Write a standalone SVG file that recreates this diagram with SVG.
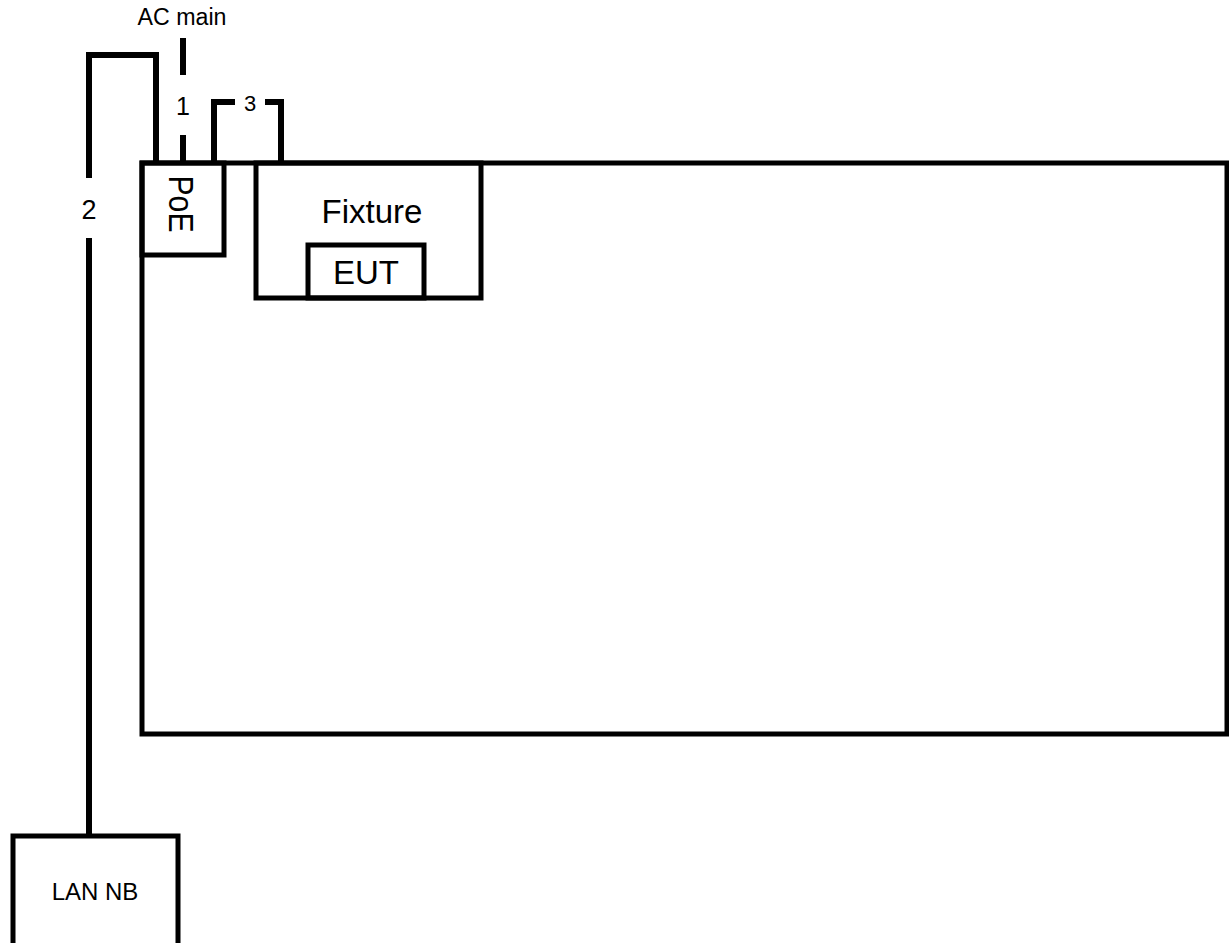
<svg xmlns="http://www.w3.org/2000/svg" width="1229" height="943" viewBox="0 0 1229 943">
<style>
.box{fill:none;stroke:#000;stroke-width:5;stroke-linejoin:miter}
.cable{fill:none;stroke:#000;stroke-width:6;stroke-linejoin:miter;stroke-linecap:butt}
.t{font-family:"Liberation Sans",Arial,sans-serif;fill:#000;text-anchor:middle}
</style>
<rect width="1229" height="943" fill="#fff"/>
<g id="connectors">
  <g id="cable-1">
    <path class="cable" d="M183,38 V75 M183,135 V163"/>
    <text class="t" x="183" y="115" font-size="25">1</text>
  </g>
  <g id="cable-2">
    <path class="cable" d="M89,178 V55 H156 V163 M89,238 V836"/>
    <text class="t" x="89" y="219" font-size="27">2</text>
  </g>
  <g id="cable-3">
    <path class="cable" d="M214,163 V102 H235 M265,102 H281 V163"/>
    <text class="t" x="250" y="111" font-size="22">3</text>
  </g>
  <text id="ac-main-label" class="t" x="182" y="25" font-size="23" textLength="89" lengthAdjust="spacingAndGlyphs">AC main</text>
</g>
<g id="chamber">
  <rect class="box" x="142" y="163" width="1085" height="571"/>
</g>
<g id="poe">
  <rect class="box" x="142" y="163" width="82" height="92"/>
  <text class="t" font-size="35" transform="translate(169,204) rotate(90)" textLength="57" lengthAdjust="spacingAndGlyphs">PoE</text>
</g>
<g id="fixture">
  <rect class="box" x="256" y="163" width="225" height="135"/>
  <text class="t" x="372" y="223" font-size="33">Fixture</text>
</g>
<g id="eut">
  <rect class="box" x="308" y="245" width="116" height="53"/>
  <text class="t" x="366" y="284" font-size="33">EUT</text>
</g>
<g id="lan-nb">
  <rect class="box" x="13" y="836" width="165" height="130"/>
  <text class="t" x="95" y="900" font-size="24">LAN NB</text>
</g>
</svg>
